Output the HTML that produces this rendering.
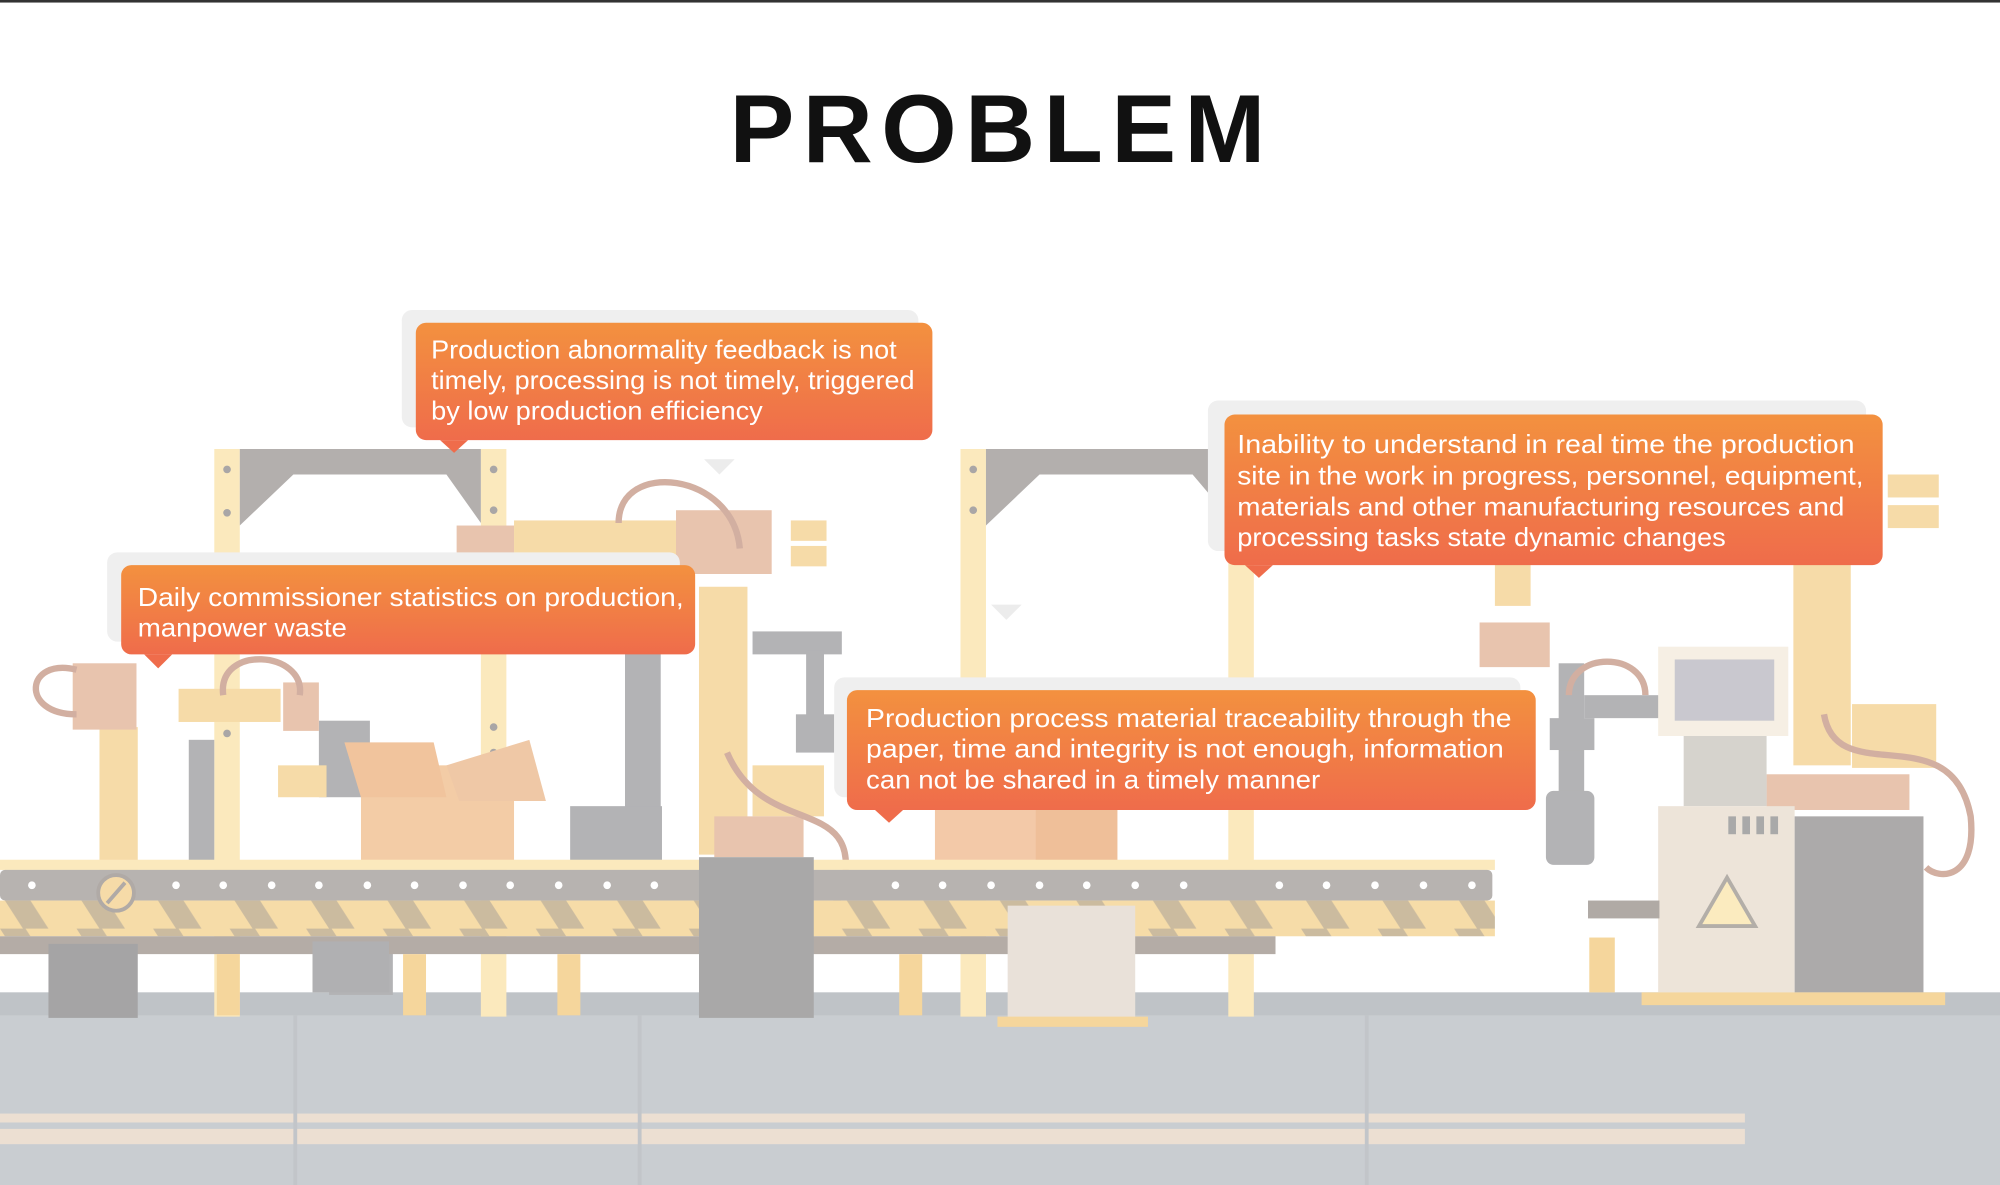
<!DOCTYPE html>
<html><head><meta charset="utf-8"><style>
html,body{margin:0;padding:0;background:#fff;}
svg{display:block;}
</style></head><body>
<svg width="2000" height="1185" viewBox="0 0 1568 929" preserveAspectRatio="none" xmlns="http://www.w3.org/2000/svg">
<defs>
<linearGradient id="og" x1="0" y1="0" x2="0" y2="1"><stop offset="0" stop-color="#f3913f"/><stop offset="1" stop-color="#ef6c4b"/></linearGradient>
<pattern id="haz" width="60" height="28" patternUnits="userSpaceOnUse"><rect width="60" height="28" fill="#f6dca8"/><polygon points="0,0 20,0 38,28 18,28" fill="#cbbb9f"/></pattern>
</defs>
<rect x="0" y="0" width="1568" height="2" fill="#333"/>
<text x="572" y="127" font-family="Liberation Sans, sans-serif" font-weight="bold" font-size="76" textLength="420" lengthAdjust="spacing" fill="#111">PROBLEM</text>

<!-- floor -->
<rect x="0" y="778" width="1568" height="151" fill="#c9cdd1"/>
<rect x="0" y="778" width="1568" height="18" fill="#bfc3c7"/>
<rect x="0" y="873" width="1368" height="7" fill="#ecdfd2"/>
<rect x="0" y="885" width="1368" height="12" fill="#ecdfd2"/>
<rect x="230" y="796" width="3" height="133" fill="#c2c5c9"/>
<rect x="500" y="796" width="3" height="133" fill="#c2c5c9"/>
<rect x="1070" y="796" width="3" height="133" fill="#c2c5c9"/>

<!-- frames -->
<g fill="#fbe9bd">
<rect x="168" y="352" width="20" height="445"/><rect x="377" y="352" width="20" height="445"/>
<rect x="753" y="352" width="20" height="445"/><rect x="963" y="352" width="20" height="445"/>
</g>
<g fill="#b3afad">
<polygon points="188,352 377,352 377,410 350,372 230,372 188,412"/>
<polygon points="773,352 963,352 963,405 935,372 815,372 773,412"/>
</g>
<g fill="#a9a6a6"><circle cx="178" cy="368" r="3"/><circle cx="178" cy="402" r="3"/><circle cx="387" cy="368" r="3"/><circle cx="387" cy="400" r="3"/><circle cx="763" cy="368" r="3"/><circle cx="763" cy="400" r="3"/><circle cx="178" cy="575" r="3"/><circle cx="387" cy="570" r="3"/><circle cx="387" cy="590" r="3"/></g>
<polygon points="552,360 576,360 564,372" fill="#ececec"/>
<polygon points="777,474 801,474 789,486" fill="#ececec"/>

<!-- gray machinery -->
<g fill="#b3b3b5">
<rect x="490" y="510" width="28" height="160"/><rect x="447" y="632" width="72" height="48"/>
<rect x="590" y="495" width="70" height="18"/><rect x="632" y="510" width="14" height="70"/><rect x="624" y="560" width="30" height="30"/>
<rect x="148" y="580" width="20" height="100"/><rect x="250" y="565" width="40" height="60"/><rect x="258" y="740" width="50" height="40"/>
<rect x="1222" y="520" width="20" height="150"/><rect x="1212" y="620" width="38" height="58" rx="6"/><rect x="1242" y="545" width="60" height="18"/>
<rect x="1215" y="563" width="35" height="25"/>
</g>
<!-- boxes -->
<rect x="283" y="600" width="120" height="80" fill="#f3cca6"/>
<polygon points="270,582 340,582 350,625 283,625" fill="#f1c49d"/>
<polygon points="350,600 415,580 428,628 360,628" fill="#efc8a6"/>
<rect x="733" y="635" width="143" height="45" fill="#f3c9a8"/>
<rect x="812" y="635" width="64" height="45" fill="#efbf99"/>

<!-- robot arms -->
<g fill="#f6dba8">
<rect x="78" y="570" width="30" height="115"/><rect x="548" y="460" width="38" height="210"/>
<rect x="403" y="408" width="130" height="28"/><rect x="140" y="540" width="80" height="26"/>
<rect x="1172" y="440" width="28" height="35"/><rect x="1406" y="440" width="45" height="160"/>
<rect x="1480" y="372" width="40" height="18"/><rect x="1480" y="396" width="40" height="18"/>
<rect x="620" y="408" width="28" height="16"/><rect x="620" y="428" width="28" height="16"/>
<rect x="590" y="600" width="56" height="40"/><rect x="1452" y="552" width="66" height="50"/>
<rect x="218" y="600" width="38" height="25"/>
</g>
<g fill="#e8c4ae">
<rect x="57" y="520" width="50" height="52"/><rect x="530" y="400" width="75" height="50"/>
<rect x="1160" y="488" width="55" height="35"/><rect x="222" y="535" width="28" height="38"/>
<rect x="358" y="412" width="45" height="24"/><rect x="560" y="640" width="70" height="32"/>
<rect x="1385" y="607" width="112" height="28"/>
</g>
<g fill="none" stroke="#d2afa1" stroke-width="5">
<path d="M60 525 C20 515 15 560 60 560"/><path d="M485 410 C485 360 575 370 580 430"/>
<path d="M175 545 C170 505 240 510 235 545"/><path d="M570 590 C600 660 680 620 660 700 C650 720 640 715 640 715"/>
<path d="M1430 560 C1440 620 1530 560 1545 640 C1550 690 1520 690 1510 680"/>
<path d="M1230 545 C1230 510 1290 510 1290 545"/>
</g>

<!-- conveyor -->
<rect x="0" y="674" width="1172" height="8" fill="#fbe9bd"/>
<rect x="0" y="682" width="1170" height="24" fill="#b7b3b0" rx="4"/>
<g fill="#fff">
<circle cx="25" cy="694" r="3"/><circle cx="138" cy="694" r="3"/><circle cx="175" cy="694" r="3"/><circle cx="213" cy="694" r="3"/><circle cx="250" cy="694" r="3"/><circle cx="288" cy="694" r="3"/><circle cx="325" cy="694" r="3"/><circle cx="363" cy="694" r="3"/><circle cx="400" cy="694" r="3"/><circle cx="438" cy="694" r="3"/><circle cx="476" cy="694" r="3"/><circle cx="513" cy="694" r="3"/><circle cx="702" cy="694" r="3"/><circle cx="739" cy="694" r="3"/><circle cx="777" cy="694" r="3"/><circle cx="815" cy="694" r="3"/><circle cx="852" cy="694" r="3"/><circle cx="890" cy="694" r="3"/><circle cx="928" cy="694" r="3"/><circle cx="1003" cy="694" r="3"/><circle cx="1040" cy="694" r="3"/><circle cx="1078" cy="694" r="3"/><circle cx="1116" cy="694" r="3"/><circle cx="1154" cy="694" r="3"/>
</g>
<rect x="0" y="706" width="1172" height="28" fill="url(#haz)"/>
<rect x="0" y="734" width="1000" height="14" fill="#b4aca6"/>
<g fill="#f5d69c">
<rect x="170" y="748" width="18" height="48"/><rect x="316" y="748" width="18" height="48"/><rect x="437" y="748" width="18" height="48"/><rect x="705" y="748" width="18" height="48"/><rect x="1246" y="735" width="20" height="43"/>
</g>
<rect x="548" y="672" width="90" height="126" fill="#a9a8a8"/>
<rect x="38" y="740" width="70" height="58" fill="#a5a4a5"/>
<rect x="245" y="738" width="60" height="40" fill="#b0b0b2"/>
<circle cx="91" cy="700" r="14" fill="#f6dba8" stroke="#b0aaa6" stroke-width="3"/>
<line x1="84" y1="708" x2="98" y2="692" stroke="#b0aaa6" stroke-width="3"/>
<!-- small cabinet -->
<rect x="790" y="710" width="100" height="88" fill="#e9e1d9"/>
<rect x="782" y="797" width="118" height="8" fill="#f5d69c"/>

<!-- right machine -->
<rect x="1300" y="507" width="102" height="70" fill="#f6efe4"/>
<rect x="1313" y="517" width="78" height="48" fill="#c9c8cf"/>
<rect x="1320" y="577" width="65" height="55" fill="#d6d3cd"/>
<rect x="1300" y="632" width="107" height="146" fill="#ede4d9"/>
<g fill="#a9a9a9"><rect x="1355" y="640" width="6" height="14"/><rect x="1366" y="640" width="6" height="14"/><rect x="1377" y="640" width="6" height="14"/><rect x="1388" y="640" width="6" height="14"/></g>
<polygon points="1354,688 1376,726 1332,726" fill="#fbebbf" stroke="#b3aea8" stroke-width="3"/>
<rect x="1407" y="640" width="101" height="138" fill="#acaaaa"/>
<rect x="1245" y="706" width="56" height="14" fill="#b0aaa5"/>
<rect x="1287" y="778" width="238" height="10" fill="#f5d69c"/>

<!-- callouts -->
<rect x="315" y="243" width="405" height="92" rx="8" fill="#efefef"/>
<rect x="326" y="253" width="405" height="92" rx="8" fill="url(#og)"/>
<polygon points="345,345 367,345 356,355" fill="#ef6c4b"/>
<rect x="84" y="433" width="449" height="70" rx="8" fill="#efefef"/>
<rect x="95" y="443" width="450" height="70" rx="8" fill="url(#og)"/>
<polygon points="113,513 135,513 124,524" fill="#ef6c4b"/>
<rect x="654" y="531" width="538" height="94" rx="8" fill="#efefef"/>
<rect x="664" y="541" width="540" height="94" rx="8" fill="url(#og)"/>
<polygon points="686,635 708,635 697,645" fill="#ef6c4b"/>
<rect x="947" y="314" width="516" height="118" rx="8" fill="#efefef"/>
<rect x="960" y="325" width="516" height="118" rx="8" fill="url(#og)"/>
<polygon points="976,443 998,443 987,453" fill="#ef6c4b"/>

<g font-family="Liberation Sans, sans-serif" font-size="20" fill="#fff">
<text x="338" y="281" textLength="365" lengthAdjust="spacingAndGlyphs">Production abnormality feedback is not</text>
<text x="338" y="305" textLength="379" lengthAdjust="spacingAndGlyphs">timely, processing is not timely, triggered</text>
<text x="338" y="329" textLength="260" lengthAdjust="spacingAndGlyphs">by low production efficiency</text>
<text x="108" y="475" textLength="428" lengthAdjust="spacingAndGlyphs">Daily commissioner statistics on production,</text>
<text x="108" y="499" textLength="164" lengthAdjust="spacingAndGlyphs">manpower waste</text>
<text x="679" y="570" textLength="506" lengthAdjust="spacingAndGlyphs">Production process material traceability through the</text>
<text x="679" y="594" textLength="500" lengthAdjust="spacingAndGlyphs">paper, time and integrity is not enough, information</text>
<text x="679" y="618" textLength="356" lengthAdjust="spacingAndGlyphs">can not be shared in a timely manner</text>
<text x="970" y="355" textLength="484" lengthAdjust="spacingAndGlyphs">Inability to understand in real time the production</text>
<text x="970" y="380" textLength="491" lengthAdjust="spacingAndGlyphs">site in the work in progress, personnel, equipment,</text>
<text x="970" y="404" textLength="476" lengthAdjust="spacingAndGlyphs">materials and other manufacturing resources and</text>
<text x="970" y="428" textLength="383" lengthAdjust="spacingAndGlyphs">processing tasks state dynamic changes</text>
</g>
</svg>
</body></html>
